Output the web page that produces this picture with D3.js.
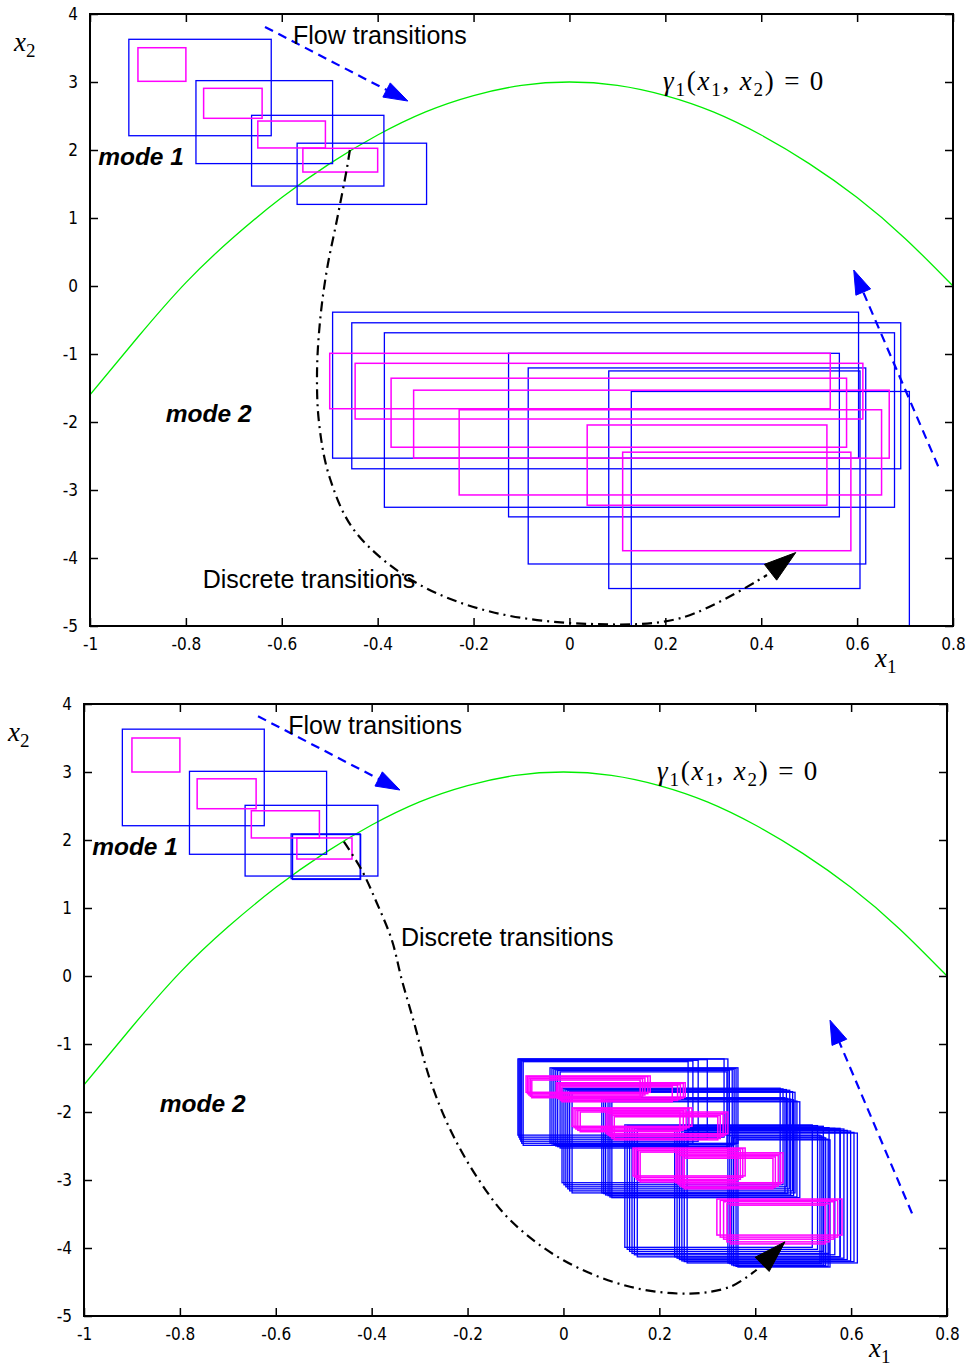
<!DOCTYPE html>
<html>
<head>
<meta charset="utf-8">
<script src="https://cdn.jsdelivr.net/npm/d3@7"></script>
<style>
  body { margin: 0; background: #fff; }
  .tick text { font-family: 'Liberation Sans Narrow', 'Arial Narrow', 'DejaVu Sans Condensed', sans-serif; font-size: 17px; fill: #000; }
  .note { font-family: 'Liberation Sans', Arial, Helvetica, sans-serif; font-size: 25px; fill: #000; }
  .mode { font-family: 'Liberation Sans', Arial, Helvetica, sans-serif; font-size: 24.5px; font-weight: bold; font-style: italic; }
  .math { font-family: 'Liberation Serif', 'DejaVu Serif', serif; font-size: 27px; fill: #000; }
</style>
</head>
<body>
<svg id="chart" width="974" height="1369"></svg>
<script>

// axes
const xTicks = [-1, -0.8, -0.6, -0.4, -0.2, 0, 0.2, 0.4, 0.6, 0.8];
const xTickLabels = ['-1', '-0.8', '-0.6', '-0.4', '-0.2', '0', '0.2', '0.4', '0.6', '0.8'];
const yTicks = [4, 3, 2, 1, 0, -1, -2, -3, -4, -5];
const yTickLabels = ['4', '3', '2', '1', '0', '-1', '-2', '-3', '-4', '-5'];

// guard gamma_1(x1, x2) = 0
const guardX = [-1, -0.9, -0.8, -0.7, -0.6, -0.5, -0.4, -0.3, -0.2, -0.1, 0, 0.1, 0.2, 0.3, 0.4, 0.5, 0.6, 0.7, 0.8];
const guardY = [-1.6, -0.75, 0.05, 0.72, 1.3, 1.8, 2.22, 2.56, 2.8, 2.95, 3.0, 2.95, 2.8, 2.56, 2.22, 1.8, 1.3, 0.7, 0.0];

// boxes: [x1 min, x1 max, x2 max, x2 min]
const topMode1Blue = [
    [-0.919, -0.622, 3.628, 2.21],
    [-0.779, -0.494, 3.02, 1.80],
    [-0.663, -0.387, 2.51, 1.47],
    [-0.568, -0.298, 2.10, 1.20]
];
const topMode1Magenta = [
    [-0.900, -0.800, 3.504, 3.01],
    [-0.763, -0.641, 2.907, 2.466],
    [-0.650, -0.509, 2.426, 2.03],
    [-0.556, -0.400, 2.025, 1.676]
];
const topMode2Blue = [
    [-0.494, 0.603, -0.385, -2.532],
    [-0.454, 0.691, -0.541, -2.688],
    [-0.386, 0.678, -0.688, -3.254],
    [-0.127, 0.563, -0.990, -3.395],
    [-0.086, 0.618, -1.205, -4.088],
    [0.082, 0.606, -1.249, -4.449],
    [0.129, 0.709, -1.551, -5.3]
];
const topMode2Magenta = [
    [-0.500, 0.544, -0.990, -1.805],
    [-0.447, 0.612, -1.137, -1.956],
    [-0.372, 0.578, -1.356, -2.371],
    [-0.325, 0.667, -1.532, -2.532],
    [-0.230, 0.651, -1.820, -3.073],
    [0.037, 0.537, -2.044, -3.224],
    [0.111, 0.587, -2.444, -3.893]
];

const bottomMode1Blue = [
    [-0.920, -0.624, 3.63, 2.21],
    [-0.780, -0.494, 3.01, 1.79],
    [-0.664, -0.387, 2.51, 1.47],
    [-0.568, -0.424, 2.09, 1.43],
    [-0.565, -0.423, 2.08, 1.42]
];
const bottomMode1Magenta = [
    [-0.900, -0.800, 3.50, 3.00],
    [-0.764, -0.641, 2.90, 2.46],
    [-0.651, -0.509, 2.43, 2.03],
    [-0.556, -0.441, 2.03, 1.72]
];
const bottomMode2Blue = [
    [-0.095, 0.343, -1.22, -2.34], [-0.093, 0.335, -1.22, -2.37], [-0.091, 0.300, -1.23, -2.40],
    [-0.089, 0.281, -1.24, -2.43], [-0.087, 0.270, -1.25, -2.46], [-0.084, 0.260, -1.26, -2.49],
    [-0.028, 0.364, -1.35, -2.46], [-0.024, 0.360, -1.36, -2.47], [-0.020, 0.356, -1.37, -2.48],
    [-0.016, 0.352, -1.38, -2.50], [-0.012, 0.346, -1.39, -2.51], [-0.007, 0.341, -1.41, -2.53],
    [-0.003, 0.452, -1.65, -3.04], [0.001, 0.458, -1.66, -3.07], [0.005, 0.465, -1.67, -3.10],
    [0.009, 0.472, -1.68, -3.13], [0.013, 0.478, -1.70, -3.16], [0.018, 0.483, -1.71, -3.19],
    [0.080, 0.462, -1.79, -3.19], [0.084, 0.468, -1.80, -3.20], [0.088, 0.474, -1.81, -3.22],
    [0.093, 0.480, -1.82, -3.23], [0.097, 0.487, -1.84, -3.25], [0.101, 0.493, -1.85, -3.26],
    [0.128, 0.519, -2.19, -3.99], [0.133, 0.530, -2.20, -4.02], [0.138, 0.542, -2.21, -4.05],
    [0.143, 0.554, -2.23, -4.08], [0.148, 0.566, -2.24, -4.10], [0.154, 0.577, -2.26, -4.13],
    [0.232, 0.577, -2.24, -4.13], [0.237, 0.585, -2.25, -4.15], [0.242, 0.592, -2.27, -4.17],
    [0.247, 0.599, -2.28, -4.19], [0.252, 0.606, -2.30, -4.20], [0.258, 0.613, -2.31, -4.22],
    [0.343, 0.535, -2.34, -4.22], [0.347, 0.539, -2.35, -4.23], [0.351, 0.543, -2.37, -4.25],
    [0.355, 0.547, -2.38, -4.26], [0.360, 0.552, -2.40, -4.27], [0.364, 0.556, -2.41, -4.28]
];
const bottomMode2Magenta = [
    [-0.078, 0.181, -1.47, -1.71], [-0.075, 0.176, -1.48, -1.73], [-0.072, 0.170, -1.50, -1.75],
    [-0.069, 0.165, -1.51, -1.77], [-0.066, 0.160, -1.53, -1.79],
    [-0.015, 0.254, -1.57, -1.78], [-0.012, 0.250, -1.58, -1.80], [-0.009, 0.244, -1.60, -1.81],
    [-0.006, 0.238, -1.61, -1.83], [-0.003, 0.227, -1.63, -1.85],
    [0.018, 0.268, -1.94, -2.21], [0.022, 0.262, -1.95, -2.23], [0.026, 0.256, -1.97, -2.25],
    [0.030, 0.250, -1.98, -2.27], [0.035, 0.243, -2.00, -2.29],
    [0.089, 0.343, -2.00, -2.32], [0.093, 0.338, -2.02, -2.34], [0.097, 0.333, -2.03, -2.36],
    [0.101, 0.327, -2.05, -2.39], [0.106, 0.322, -2.07, -2.41],
    [0.145, 0.379, -2.53, -2.94], [0.149, 0.374, -2.54, -2.96], [0.152, 0.369, -2.56, -2.99],
    [0.156, 0.363, -2.57, -3.01], [0.160, 0.358, -2.59, -3.03],
    [0.235, 0.458, -2.60, -3.04], [0.239, 0.453, -2.62, -3.06], [0.243, 0.448, -2.64, -3.09],
    [0.248, 0.442, -2.66, -3.11], [0.252, 0.437, -2.68, -3.13],
    [0.320, 0.581, -3.28, -3.81], [0.327, 0.572, -3.30, -3.84], [0.334, 0.564, -3.32, -3.87],
    [0.341, 0.555, -3.35, -3.91], [0.348, 0.546, -3.37, -3.94]
];

// discrete transition paths (last point = arrow tip)
const topJump = [
    [-0.458, 2.0], [-0.4645, 1.716], [-0.485, 0.97], [-0.506, 0.235], [-0.520, -0.5],
    [-0.5265, -1.28], [-0.522, -2.03], [-0.500, -2.82], [-0.447, -3.61], [-0.323, -4.35],
    [-0.164, -4.79], [0.045, -4.97], [0.234, -4.88], [0.412, -4.25], [0.472, -3.92]
];
const bottomJump = [
    [-0.458, 1.975], [-0.421, 1.56], [-0.389, 1.07], [-0.358, 0.53], [-0.337, -0.06],
    [-0.313, -0.65], [-0.278, -1.53], [-0.236, -2.26], [-0.181, -2.95], [-0.111, -3.59],
    [0.0, -4.18], [0.139, -4.57], [0.264, -4.67], [0.348, -4.57], [0.403, -4.32], [0.462, -3.91]
];

// flow arrows: [start, tip]
const topFlow = [[[-0.635, 3.81], [-0.337, 2.72]], [[0.769, -2.65], [0.593, 0.235]]];
const bottomFlow = [[[-0.637, 3.82], [-0.341, 2.735]], [[0.727, -3.49], [0.556, -0.65]]];

const svg = d3.select('#chart');

function arrowHead (g, from, tip, len, half, color) {
    const dx = tip[0] - from[0], dy = tip[1] - from[1];
    const L = Math.hypot(dx, dy);
    const ux = dx / L, uy = dy / L;
    const bx = tip[0] - ux * len, by = tip[1] - uy * len;
    g.append('path')
        .attr('d', `M${tip[0]},${tip[1]}L${bx - uy * half},${by + ux * half}L${bx + uy * half},${by - ux * half}Z`)
        .attr('fill', color)
        .attr('stroke', color)
        .attr('stroke-width', 1);
}

function mathText (g, px, py, parts, spacing) {
    // parts: [text, italic, subscript]
    const t = g.append('text').attr('class', 'math').attr('x', px).attr('y', py)
        .attr('letter-spacing', spacing || 0);
    let sub = false;
    parts.forEach(([s, it, isSub]) => {
        const ts = t.append('tspan').text(s);
        if (it) ts.attr('font-style', 'italic');
        if (isSub) ts.attr('font-size', 19);
        if (isSub && !sub) ts.attr('dy', 6);
        if (!isSub && sub) ts.attr('dy', -6);
        sub = isSub;
    });
    return t;
}

function drawPanel (opt) {

    const {left, top, width, height, id} = opt;

    const x = d3.scaleLinear().domain([-1, 0.8]).range([0, width]);
    const y = d3.scaleLinear().domain([-5, 4]).range([height, 0]);

    const g = svg.append('g').attr('transform', `translate(${left},${top})`);

    g.append('clipPath').attr('id', id)
        .append('rect').attr('width', width).attr('height', height);

    const plot = g.append('g').attr('clip-path', `url(#${id})`);

    const box = (sel, list, color, w) => {
        sel.selectAll(null)
            .data(list)
            .enter()
            .append('rect')
            .attr('x', d => x(d[0]))
            .attr('y', d => y(d[2]))
            .attr('width', d => x(d[1]) - x(d[0]))
            .attr('height', d => y(d[3]) - y(d[2]))
            .attr('fill', 'none')
            .attr('stroke', color)
            .attr('stroke-width', w);
    };

    // guard
    plot.append('path')
        .datum(guardX.map((v, i) => [v, guardY[i]]))
        .attr('d', d3.line().x(d => x(d[0])).y(d => y(d[1])).curve(d3.curveNatural))
        .attr('fill', 'none')
        .attr('stroke', '#00ee00')
        .attr('stroke-width', 1.3);

    box(plot, opt.mode1Blue, '#0000ff', 1.3);
    box(plot, opt.mode1Magenta, '#ff00ff', 1.5);
    box(plot, opt.mode2Blue, '#0000ff', 1.3);
    box(plot, opt.mode2Magenta, '#ff00ff', 1.5);

    // discrete transition
    const jump = opt.jump;
    const tip = jump[jump.length - 1];
    plot.append('path')
        .datum(jump.slice(0, -1))
        .attr('d', d3.line().x(d => x(d[0])).y(d => y(d[1])).curve(d3.curveCatmullRom.alpha(0.5)))
        .attr('fill', 'none')
        .attr('stroke', '#000')
        .attr('stroke-width', 2.2)
        .attr('stroke-dasharray', '10,5,2,5');
    const prev = jump[jump.length - 2];
    arrowHead(plot, [x(prev[0]), y(prev[1])], [x(tip[0]), y(tip[1])], 32, 10, '#000');

    // flow arrows
    opt.flow.forEach(([a, b]) => {
        const pa = [x(a[0]), y(a[1])], pb = [x(b[0]), y(b[1])];
        const L = Math.hypot(pb[0] - pa[0], pb[1] - pa[1]);
        const k = (L - 20) / L;
        plot.append('line')
            .attr('x1', pa[0]).attr('y1', pa[1])
            .attr('x2', pa[0] + (pb[0] - pa[0]) * k)
            .attr('y2', pa[1] + (pb[1] - pa[1]) * k)
            .attr('stroke', '#0000ff')
            .attr('stroke-width', 2.2)
            .attr('stroke-dasharray', '9,6');
        arrowHead(plot, pa, pb, 24, 8, '#0000ff');
    });

    // text notes
    g.append('text').attr('class', 'note')
        .attr('x', x(opt.flowText[0])).attr('y', y(opt.flowText[1]))
        .text('Flow transitions');
    g.append('text').attr('class', 'note')
        .attr('x', x(opt.jumpText[0])).attr('y', y(opt.jumpText[1]))
        .text('Discrete transitions');
    g.append('text').attr('class', 'mode')
        .attr('x', x(-0.983)).attr('y', y(1.78))
        .text('mode 1');
    g.append('text').attr('class', 'mode')
        .attr('x', x(-0.842)).attr('y', y(-2.0))
        .text('mode 2');

    mathText(g, x(0.195), y(2.88), [
        ['γ', true, false], ['1', false, true], ['(', false, false],
        ['x', true, false], ['1', false, true], [', ', false, false],
        ['x', true, false], ['2', false, true], [') = 0', false, false]
    ], 1.8);

    // axes
    g.append('g')
        .attr('transform', `translate(0,${height})`)
        .call(d3.axisBottom(x).tickValues(xTicks).tickSize(-8).tickPadding(12)
            .tickFormat((d, i) => xTickLabels[i]));
    g.append('g')
        .call(d3.axisTop(x).tickValues(xTicks).tickSize(-8).tickFormat(''));
    g.append('g')
        .call(d3.axisLeft(y).tickValues(yTicks).tickSize(-8).tickPadding(12)
            .tickFormat((d, i) => yTickLabels[i]));
    g.append('g')
        .attr('transform', `translate(${width},0)`)
        .call(d3.axisRight(y).tickValues(yTicks).tickSize(-8).tickFormat(''));

    g.selectAll('.domain').remove();
    g.selectAll('.tick line').attr('stroke', '#000').attr('stroke-width', 1.5);

    g.append('rect')
        .attr('width', width).attr('height', height)
        .attr('fill', 'none').attr('stroke', '#000').attr('stroke-width', 2);

    // axis titles
    mathText(g, width - 78, height + 41, [['x', true, false], ['1', false, true]]);
    mathText(g, -76, 37, [['x', true, false], ['2', false, true]]);
}

drawPanel({
    id: 'clipTop',
    left: 90, top: 14, width: 863, height: 612,
    mode1Blue: topMode1Blue,
    mode1Magenta: topMode1Magenta,
    mode2Blue: topMode2Blue,
    mode2Magenta: topMode2Magenta,
    jump: topJump,
    flow: topFlow,
    flowText: [-0.5765, 3.56],
    jumpText: [-0.765, -4.44]
});

drawPanel({
    id: 'clipBottom',
    left: 84, top: 704, width: 863, height: 612,
    mode1Blue: bottomMode1Blue,
    mode1Magenta: bottomMode1Magenta,
    mode2Blue: bottomMode2Blue,
    mode2Magenta: bottomMode2Magenta,
    jump: bottomJump,
    flow: bottomFlow,
    flowText: [-0.574, 3.56],
    jumpText: [-0.339, 0.44]
});

</script>
</body>
</html>
